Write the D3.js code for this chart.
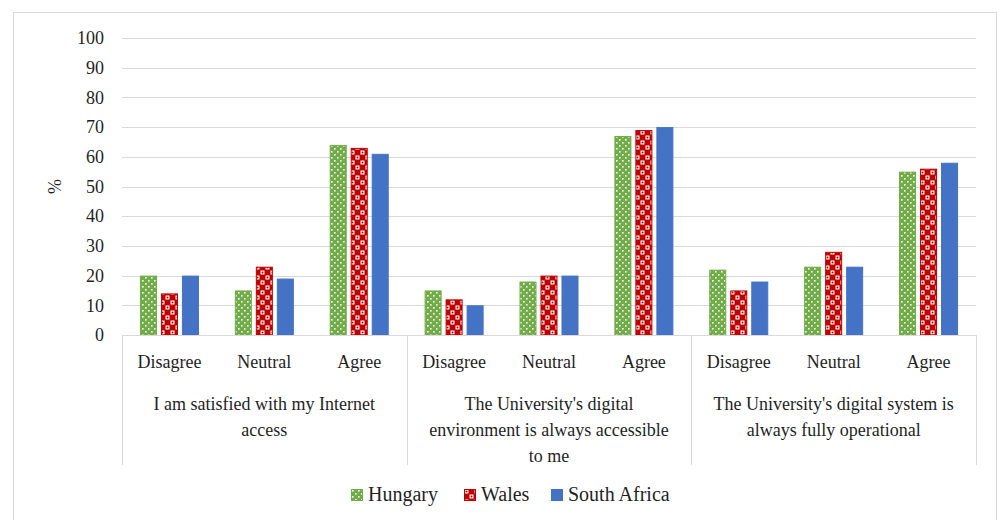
<!DOCTYPE html>
<html>
<head>
<meta charset="utf-8">
<script src="https://cdn.jsdelivr.net/npm/d3@7"></script>
<style>
  html, body { margin: 0; padding: 0; background: #fff; }
</style>
</head>
<body>
<svg id="chart" width="998" height="520"></svg>
<script>
// ---- Data ----
const groups = [
  ["I am satisfied with my Internet", "access"],
  ["The University's digital", "environment is always accessible", "to me"],
  ["The University's digital system is", "always fully operational"]
];
const responses = ["Disagree", "Neutral", "Agree"];
const series = ["Hungary", "Wales", "South Africa"];
const hungary = [20, 15, 64, 15, 18, 67, 22, 23, 55];
const wales = [14, 23, 63, 12, 20, 69, 15, 28, 56];
const southAfrica = [20, 19, 61, 10, 20, 70, 18, 23, 58];
const yTicks = [0, 10, 20, 30, 40, 50, 60, 70, 80, 90, 100];

// ---- Layout ----
const plot = { left: 122, right: 976, top: 38, bottom: 335 };
const textColor = "#1f1f1f";
const gridColor = "#d9d9d9";
const fontSize = 18;
const FONT = "'Liberation Serif', 'DejaVu Serif', serif";

const svg = d3.select("#chart");

// patterns
const defs = svg.append("defs");
const pH = defs.append("pattern").attr("id", "patHungary")
  .attr("patternUnits", "userSpaceOnUse").attr("width", 6).attr("height", 6);
pH.append("rect").attr("width", 6).attr("height", 6).attr("fill", "#70AD47");
pH.append("rect").attr("x", 1).attr("y", 1).attr("width", 1.6).attr("height", 1.6).attr("fill", "#fff");
pH.append("rect").attr("x", 4).attr("y", 4).attr("width", 1.6).attr("height", 1.6).attr("fill", "#fff");

const pW = defs.append("pattern").attr("id", "patWales")
  .attr("patternUnits", "userSpaceOnUse").attr("width", 10).attr("height", 10);
pW.append("rect").attr("width", 10).attr("height", 10).attr("fill", "#C00000");
pW.append("rect").attr("x", 0.5).attr("y", 0.5).attr("width", 4).attr("height", 4).attr("fill", "#fff");
pW.append("rect").attr("x", 5.5).attr("y", 5.5).attr("width", 4).attr("height", 4).attr("fill", "#fff");
pW.append("circle").attr("cx", 2.5).attr("cy", 2.5).attr("r", 1).attr("fill", "#C00000");
pW.append("circle").attr("cx", 7.5).attr("cy", 7.5).attr("r", 1).attr("fill", "#C00000");

const fills = { "Hungary": "url(#patHungary)", "Wales": "url(#patWales)", "South Africa": "#4472C4" };
const strokes = { "Hungary": "#70AD47", "Wales": "#C00000", "South Africa": "#4472C4" };

// outer border
svg.append("rect").attr("x", 13.5).attr("y", 12.5).attr("width", 983).attr("height", 520)
  .attr("fill", "none").attr("stroke", "#d9d9d9").attr("stroke-width", 1);

// scales
const keys = d3.range(groups.length * responses.length);
const x0 = d3.scaleBand().domain(keys).range([plot.left, plot.right]).padding(0);
const x1 = d3.scaleBand().domain(series).range([0, 59]).paddingInner(0.19).paddingOuter(0);
const y = d3.scaleLinear().domain([0, 100]).range([plot.bottom, plot.top]);

// gridlines
svg.append("g").selectAll("line").data(yTicks.filter(d => d > 0)).join("line")
  .attr("x1", plot.left).attr("x2", plot.right)
  .attr("y1", d => Math.round(y(d)) + 0.5).attr("y2", d => Math.round(y(d)) + 0.5)
  .attr("stroke", gridColor).attr("stroke-width", 1);

// y axis labels
const yAxis = d3.axisLeft(y).tickValues(yTicks).tickSize(0).tickPadding(0);
const yg = svg.append("g").attr("transform", `translate(${plot.left - 18},0)`).call(yAxis);
yg.select(".domain").remove();
yg.attr("font-family", null).attr("font-size", null);
yg.selectAll("text").attr("font-size", fontSize).attr("fill", textColor);

// y title
svg.append("text").attr("transform", `translate(61,${(plot.top + plot.bottom) / 2}) rotate(-90)`)
  .attr("text-anchor", "middle").attr("font-size", fontSize).attr("fill", textColor).text("%");

// bars
const data = [];
keys.forEach(k => {
  data.push({ k, s: "Hungary", v: hungary[k] });
  data.push({ k, s: "Wales", v: wales[k] });
  data.push({ k, s: "South Africa", v: southAfrica[k] });
});
const offset = (x0.bandwidth() - 59) / 2;
svg.append("g").selectAll("rect").data(data).join("rect")
  .attr("x", d => x0(d.k) + offset + x1(d.s) + 0.5)
  .attr("width", x1.bandwidth() - 1)
  .attr("y", d => y(d.v) + 0.5)
  .attr("height", d => y(0) - y(d.v) - 0.5)
  .attr("fill", d => fills[d.s])
  .attr("stroke", d => strokes[d.s]).attr("stroke-width", 1);

// baseline
svg.append("line").attr("x1", plot.left).attr("x2", plot.right)
  .attr("y1", plot.bottom + 0.5).attr("y2", plot.bottom + 0.5)
  .attr("stroke", gridColor).attr("stroke-width", 1);

// group separators
const sepX = d3.range(groups.length + 1).map(i =>
  i < groups.length ? x0(i * responses.length) : plot.right);
svg.append("g").selectAll("line").data(sepX).join("line")
  .attr("x1", d => Math.round(d) + 0.5).attr("x2", d => Math.round(d) + 0.5)
  .attr("y1", plot.bottom).attr("y2", 465)
  .attr("stroke", gridColor).attr("stroke-width", 1);

// response labels
svg.append("g").selectAll("text").data(keys).join("text")
  .attr("x", k => x0(k) + x0.bandwidth() / 2).attr("y", 368)
  .attr("text-anchor", "middle").attr("font-size", fontSize).attr("fill", textColor)
  .text(k => responses[k % responses.length]);

// group labels
groups.forEach((lines, i) => {
  const cx = (sepX[i] + sepX[i + 1]) / 2;
  const t = svg.append("text").attr("text-anchor", "middle")
    .attr("font-size", fontSize).attr("fill", textColor);
  lines.forEach((ln, j) => {
    t.append("tspan").attr("x", cx).attr("y", 410 + j * 26).text(ln);
  });
});

// legend
const legX = [351, 464, 551];
const lg = svg.append("g").selectAll("g").data(series).join("g")
  .attr("transform", (d, i) => `translate(${legX[i]},489)`);
lg.append("rect").attr("x", 0.5).attr("y", 0.5).attr("width", 11).attr("height", 11)
  .attr("fill", d => fills[d]).attr("stroke", d => strokes[d]);
lg.append("text").attr("x", 17).attr("y", 12).attr("font-size", 20)
  .attr("fill", textColor).text(d => d);

// apply serif font to all text
svg.selectAll("text").style("font-family", FONT);
</script>
</body>
</html>
